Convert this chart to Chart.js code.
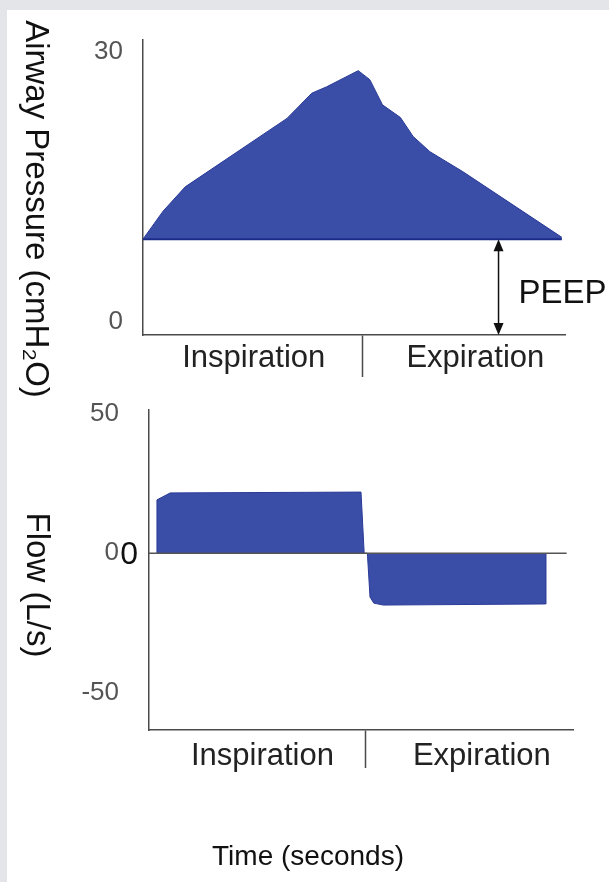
<!DOCTYPE html>
<html>
<head>
<meta charset="utf-8">
<title>Airway pressure and flow</title>
<script src="https://cdn.jsdelivr.net/npm/chart.js@4"></script>
<style>
  html, body { margin: 0; padding: 0; background: #e4e5e8; }
  #page { position: relative; width: 609px; height: 882px; overflow: hidden; }
  #sheet { position: absolute; left: 7px; top: 10px; right: 0; bottom: 0; background: #fff; }
  #pressureBox { position: absolute; left: 0; top: 0; width: 609px; height: 400px; }
  #flowBox { position: absolute; left: 0; top: 400px; width: 609px; height: 482px; }
</style>
</head>
<body>
<div id="page">
  <div id="sheet"></div>
  <div id="pressureBox"><canvas id="pressureChart"></canvas></div>
  <div id="flowBox"><canvas id="flowChart"></canvas></div>
</div>
<script>
// time runs 0..4 s on both panels
var pressureTime   = [0, 0.19, 0.40, 1.365, 1.60, 1.74, 2.04, 2.15, 2.27, 2.44, 2.56, 2.72, 3.03, 3.97];
var pressureValues = [9.2, 12.3, 15.0, 22.6, 25.4, 26.1, 27.9, 26.9, 24.1, 22.7, 20.6, 18.9, 16.7, 9.4];
var peepLevel = 9.2;
var pressureTicks = [0, 30];

var flowTime   = [0.075, 0.075, 0.2, 2.0, 2.03, 2.06, 2.085, 2.12, 2.21, 3.74, 3.745];
var flowValues = [0, 19.2, 21.7, 22.0, 0, 0, -15.7, -17.9, -18.6, -18.2, 0];
var flowTicks = [50, 0, -50];

var phaseLabels = ['Inspiration', '', 'Expiration'];
var pressurePhaseTicks = [1.05, 2.08, 3.15];
var flowPhaseTicks = [1.07, 2.04, 3.14];

var fillBlue = '#3a4da7';
var edgeBlue = '#2a3b98';
var axisGray = '#4a4a4a';
var fontFamily = "'Liberation Sans', Arial, sans-serif";

Chart.defaults.font.family = fontFamily;
Chart.defaults.animation = false;

function toPoints(xs, ys) {
  var pts = [];
  for (var i = 0; i < xs.length; i++) {
    pts.push({x: xs[i], y: ys[i]});
  }
  return pts;
}

// free text: vertical axis titles (read top to bottom) and the shared time caption
var extraText = {
  id: 'extraText',
  afterDraw: function(chart, args, opts) {
    var ctx = chart.ctx;
    opts.items.forEach(function(t) {
      ctx.save();
      ctx.translate(t.x, t.y);
      if (t.vertical) ctx.rotate(Math.PI / 2);
      ctx.font = t.size + 'px ' + fontFamily;
      ctx.fillStyle = '#111';
      ctx.textAlign = 'center';
      ctx.textBaseline = 'middle';
      ctx.fillText(t.text, 0, 0);
      ctx.restore();
    });
  }
};

// double arrow between 0 and PEEP
var peepArrow = {
  id: 'peepArrow',
  afterDatasetsDraw: function(chart, args, opts) {
    var ctx = chart.ctx;
    var x = chart.scales.x.getPixelForValue(opts.at);
    var yTop = chart.scales.y.getPixelForValue(peepLevel);
    var yBot = chart.chartArea.bottom;
    ctx.save();
    ctx.strokeStyle = '#111';
    ctx.fillStyle = '#111';
    ctx.lineWidth = 1.5;
    ctx.beginPath();
    ctx.moveTo(x, yTop + 8);
    ctx.lineTo(x, yBot - 8);
    ctx.stroke();
    ctx.beginPath();
    ctx.moveTo(x, yTop);
    ctx.lineTo(x - 5, yTop + 12);
    ctx.lineTo(x + 5, yTop + 12);
    ctx.closePath();
    ctx.fill();
    ctx.beginPath();
    ctx.moveTo(x, yBot);
    ctx.lineTo(x - 5, yBot - 12);
    ctx.lineTo(x + 5, yBot - 12);
    ctx.closePath();
    ctx.fill();
    ctx.font = '33px ' + fontFamily;
    ctx.textAlign = 'left';
    ctx.textBaseline = 'middle';
    ctx.fillText('PEEP', x + 20, (yTop + yBot) / 2 + 7);
    ctx.restore();
  }
};

// the picture has a second, larger 0 sitting over the tick label
var bigZero = {
  id: 'bigZero',
  afterDraw: function(chart) {
    var ctx = chart.ctx;
    var y = chart.scales.y.getPixelForValue(0);
    ctx.save();
    ctx.font = '32px ' + fontFamily;
    ctx.fillStyle = '#111';
    ctx.textAlign = 'right';
    ctx.textBaseline = 'middle';
    ctx.fillText('0', chart.chartArea.left - 11, y + 2);
    ctx.restore();
  }
};

function phaseTickColor(ctx) {
  return ctx.index === 1 ? axisGray : 'rgba(0,0,0,0)';
}

function fixWidth(w) {
  return function(scale) {
    scale.width = w;
    scale.paddingTop = 0;
    scale.paddingBottom = 0;
  };
}

function fixHeight(h) {
  return function(scale) {
    scale.height = h;
    scale.paddingLeft = 0;
    scale.paddingRight = 0;
  };
}

new Chart(document.getElementById('pressureChart'), {
  type: 'line',
  data: {
    datasets: [
      {
        data: toPoints([0, pressureTime[pressureTime.length - 1]], [peepLevel, peepLevel]),
        borderColor: '#1d2b88',
        borderWidth: 2,
        pointRadius: 0,
        fill: false
      },
      {
        data: toPoints(pressureTime, pressureValues),
        borderColor: edgeBlue,
        backgroundColor: fillBlue,
        borderWidth: 1,
        pointRadius: 0,
        tension: 0,
        fill: {value: peepLevel}
      }
    ]
  },
  options: {
    responsive: true,
    maintainAspectRatio: false,
    layout: { padding: {top: 40, right: 44, left: 0, bottom: 0} },
    plugins: {
      legend: { display: false },
      tooltip: { enabled: false },
      extraText: { items: [
        { text: 'Airway Pressure (cmH\u2082O)', x: 35, y: 209, size: 33, vertical: true }
      ] },
      peepArrow: { at: 3.37 }
    },
    scales: {
      x: {
        type: 'linear',
        min: 0,
        max: 4,
        afterFit: fixHeight(65),
        afterBuildTicks: function(scale) {
          scale.ticks = pressurePhaseTicks.map(function(v) { return {value: v}; });
        },
        border: { color: axisGray, width: 1.5 },
        grid: { drawOnChartArea: false, drawTicks: true, tickLength: 42, tickWidth: 1.5, tickColor: phaseTickColor },
        ticks: {
          padding: -37,
          color: '#222',
          font: { size: 31 },
          maxRotation: 0,
          autoSkip: false,
          callback: function(value, index) { return phaseLabels[index]; }
        }
      },
      y: {
        type: 'linear',
        min: -1.44,
        max: 31.3,
        afterFit: fixWidth(143),
        afterBuildTicks: function(scale) {
          scale.ticks = pressureTicks.map(function(v) { return {value: v}; });
        },
        border: { color: axisGray, width: 1.5 },
        grid: { drawOnChartArea: false, drawTicks: false },
        ticks: { padding: 20, color: '#555', font: { size: 26 } }
      }
    }
  },
  plugins: [extraText, peepArrow]
});

new Chart(document.getElementById('flowChart'), {
  type: 'line',
  data: {
    datasets: [
      {
        data: toPoints([0, 3.94], [0, 0]),
        borderColor: '#555',
        borderWidth: 1.5,
        pointRadius: 0,
        fill: false
      },
      {
        data: toPoints(flowTime, flowValues),
        borderColor: edgeBlue,
        backgroundColor: fillBlue,
        borderWidth: 1,
        pointRadius: 0,
        tension: 0,
        fill: 'origin'
      }
    ]
  },
  options: {
    responsive: true,
    maintainAspectRatio: false,
    layout: { padding: {top: 10, right: 36, left: 0, bottom: 0} },
    plugins: {
      legend: { display: false },
      tooltip: { enabled: false },
      extraText: { items: [
        { text: 'Flow (L/s)', x: 36, y: 185, size: 33, vertical: true },
        { text: 'Time (seconds)', x: 308, y: 457, size: 28, vertical: false }
      ] }
    },
    scales: {
      x: {
        type: 'linear',
        min: 0,
        max: 4,
        afterFit: fixHeight(152),
        afterBuildTicks: function(scale) {
          scale.ticks = flowPhaseTicks.map(function(v) { return {value: v}; });
        },
        border: { color: axisGray, width: 1.5 },
        grid: { drawOnChartArea: false, drawTicks: true, tickLength: 38, tickWidth: 1.5, tickColor: phaseTickColor },
        ticks: {
          padding: -30,
          color: '#222',
          font: { size: 31 },
          maxRotation: 0,
          autoSkip: false,
          callback: function(value, index) { return phaseLabels[index]; }
        }
      },
      y: {
        type: 'linear',
        min: -63.5,
        max: 51.5,
        afterFit: fixWidth(149),
        afterBuildTicks: function(scale) {
          scale.ticks = flowTicks.map(function(v) { return {value: v}; });
        },
        border: { color: axisGray, width: 1.5 },
        grid: { drawOnChartArea: false, drawTicks: false },
        ticks: { padding: 30, color: '#555', font: { size: 26 } }
      }
    }
  },
  plugins: [extraText, bigZero]
});
</script>
</body>
</html>
